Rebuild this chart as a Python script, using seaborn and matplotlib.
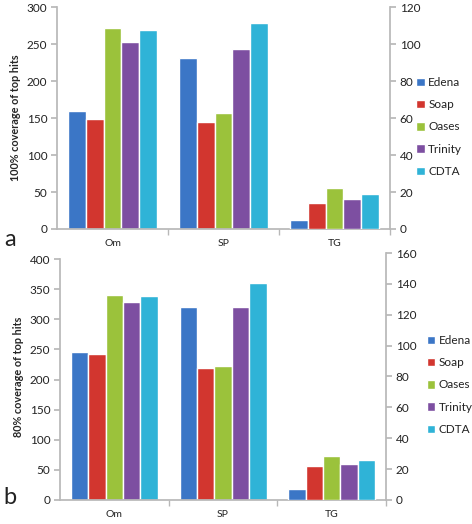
import numpy as np
import pandas as pd
import matplotlib
matplotlib.use("Agg")
import matplotlib.pyplot as plt
import seaborn as sns

# data
categories = ["Om", "SP", "TG"]
tools = ["Edena", "Soap", "Oases", "Trinity", "CDTA"]
colors = ["#3B76C6", "#D2362F", "#9BC23B", "#7D4FA1", "#2FB3D7"]

# panel a: Om and SP on left axis, TG on right axis
a_om = [160, 149, 272, 253, 270]
a_sp = [231, 145, 157, 244, 279]
a_tg = [5, 14, 22, 16, 19]
# panel b
b_om = [246, 242, 340, 328, 339]
b_sp = [321, 219, 223, 321, 360]
b_tg = [7, 22, 28.5, 23, 26]

sns.set_theme(style="white")
plt.rcParams["font.family"] = ["Lato", "DejaVu Sans"]
plt.rcParams["text.color"] = "#222222"

spine_col = "#b8b8b8"


def long_df(rows):
	recs = []
	for cat, vals in rows:
		for t, v in zip(tools, vals):
			recs.append({"cat": cat, "tool": t, "val": v})
	return pd.DataFrame(recs)


def panel(fig, rect, left_rows, right_rows, ylim_l, yticks_l, ylim_r, yticks_r,
		  ylabel, letter, letter_y, leg_pos):
	ax = fig.add_axes(rect)
	ax2 = ax.twinx()
	sns.barplot(data=long_df(left_rows), x="cat", y="val", hue="tool", order=categories,
				hue_order=tools, palette=colors, saturation=1, width=0.8, errorbar=None, ax=ax)
	sns.barplot(data=long_df(right_rows), x="cat", y="val", hue="tool", order=categories,
				hue_order=tools, palette=colors, saturation=1, width=0.8, errorbar=None,
				ax=ax2, legend=False)
	handles, labels = ax.get_legend_handles_labels()
	ax.get_legend().remove()
	ax.patch.set_alpha(0)
	ax2.patch.set_alpha(0)

	ax.set_ylim(*ylim_l)
	ax.set_yticks(yticks_l)
	ax2.set_ylim(*ylim_r)
	ax2.set_yticks(yticks_r)
	ax.set_xlim(-0.5, 2.5)
	ax.set_xlabel("")
	ax2.set_xlabel("")
	ax2.set_ylabel("")
	ax.set_ylabel(ylabel, fontsize=7.8, fontweight="bold", labelpad=4)

	for a in (ax, ax2):
		for s in a.spines.values():
			s.set_visible(False)
	ax.spines["left"].set_visible(True)
	ax.spines["left"].set_color(spine_col)
	ax.spines["left"].set_bounds(0, yticks_l[-1])
	ax.spines["bottom"].set_visible(True)
	ax.spines["bottom"].set_color(spine_col)
	ax2.spines["right"].set_visible(True)
	ax2.spines["right"].set_color(spine_col)

	ax.tick_params(axis="y", left=True, length=4, color=spine_col, labelsize=8.5,
				   labelcolor="#222222", pad=3)
	ax2.tick_params(axis="y", right=True, length=4, color=spine_col, labelsize=8.5,
					labelcolor="#222222", pad=3)
	ax.set_xticks([0, 1, 2])
	ax.set_xticklabels(categories)
	ax.tick_params(axis="x", bottom=False, length=0, labelsize=7.5, labelcolor="#222222", pad=7)
	ax.set_xticks([0.5, 1.5, 2.5], minor=True)
	ax.tick_params(axis="x", which="minor", bottom=True, length=4, color=spine_col)

	ax.legend(handles, labels, loc="center left", bbox_to_anchor=leg_pos,
			  bbox_transform=fig.transFigure, frameon=False, fontsize=8.5,
			  handlelength=0.7, handleheight=0.7, handletextpad=0.3, labelspacing=0.95,
			  borderaxespad=0)
	fig.text(0.008, letter_y, letter, fontsize=17, va="center", ha="left")


fig = plt.figure(figsize=(4.72, 5.24), dpi=100)

panel(fig, [0.121, 0.563, 0.705, 0.423],
	  [("Om", a_om), ("SP", a_sp)], [("TG", a_tg)],
	  (0, 300), [0, 50, 100, 150, 200, 250, 300],
	  (0, 120), [0, 20, 40, 60, 80, 100, 120],
	  "100% coverage of top hits", "a", 1 - 240 / 524, (0.872, 1 - 127 / 524))

panel(fig, [0.127, 0.046, 0.691, 0.471],
	  [("Om", b_om), ("SP", b_sp)], [("TG", b_tg)],
	  (0, 410), [0, 50, 100, 150, 200, 250, 300, 350, 400],
	  (0, 160), [0, 20, 40, 60, 80, 100, 120, 140, 160],
	  "80% coverage of top hits", "b", 1 - 498 / 524, (0.895, 1 - 385 / 524))

fig.savefig("out.png", dpi=100)
